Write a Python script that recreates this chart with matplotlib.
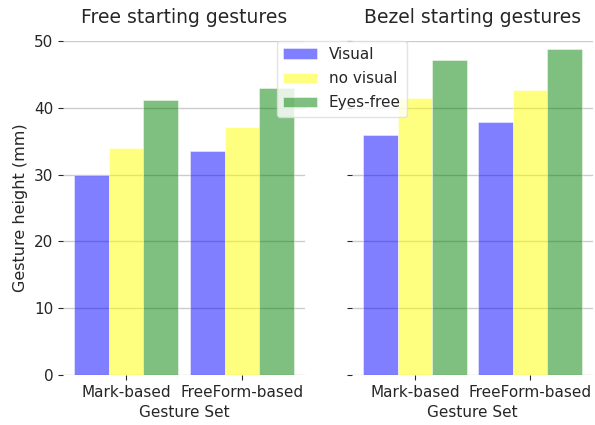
import numpy as np
import matplotlib
matplotlib.use('Agg')
import matplotlib.pyplot as plt

gesture_sets = ['Mark-based', 'FreeForm-based']
conditions = ['Visual', 'no visual', 'Eyes-free']
colors = ['b', 'yellow', 'g']

# mean gesture height (mm) per condition, one entry per gesture set
free_visual = [30.0, 33.5]
free_novisual = [34.0, 37.1]
free_eyesfree = [41.1, 43.0]

bezel_visual = [35.9, 37.8]
bezel_novisual = [41.5, 42.6]
bezel_eyesfree = [47.2, 48.8]

plt.rcParams['font.family'] = 'DejaVu Sans'
plt.rcParams['font.size'] = 11
text_col = '#262626'

fig = plt.figure(figsize=(5.95, 4.25), dpi=100)
ax1 = fig.add_axes([63/595, 1-375/425, 242/595, 334/425])
ax2 = fig.add_axes([352/595, 1-375/425, 241/595, 334/425], sharey=ax1)

x = np.arange(len(gesture_sets))
width = 0.3

panels = [
    (ax1, 'Free starting gestures', [free_visual, free_novisual, free_eyesfree]),
    (ax2, 'Bezel starting gestures', [bezel_visual, bezel_novisual, bezel_eyesfree]),
]

for ax, title, series in panels:
    for i, vals in enumerate(series):
        ax.bar(x + (i - 1) * width, vals, width, color=colors[i], alpha=0.5,
               edgecolor='white', linewidth=0.6, label=conditions[i])
    ax.set_title(title, fontsize=13.5, color=text_col, pad=13)
    ax.set_xticks(x)
    ax.set_xticklabels(gesture_sets)
    ax.set_xlabel('Gesture Set', color=text_col, fontsize=11, labelpad=4)
    ax.set_ylim(0, 50)
    ax.set_yticks([0, 10, 20, 30, 40, 50])
    ax.yaxis.grid(True, color='#cccccc', linewidth=1)
    ax.xaxis.grid(False)
    ax.set_axisbelow(True)
    for s in ax.spines.values():
        s.set_visible(False)
    ax.tick_params(colors=text_col, length=3.5, width=0.8, labelsize=11)

plt.setp(ax2.get_yticklabels(), visible=False)
ax1.set_ylabel('Gesture height (mm)', color=text_col, fontsize=11.5)

handles, labels = ax1.get_legend_handles_labels()
leg = fig.legend(handles, labels, loc='upper left',
                 bbox_to_anchor=(277/595, 1-41/425), borderaxespad=0,
                 fontsize=11, framealpha=0.8, edgecolor='#dddddd',
                 handlelength=2.2, labelspacing=0.6)
for t in leg.get_texts():
    t.set_color(text_col)

fig.savefig('out.png', dpi=100)
